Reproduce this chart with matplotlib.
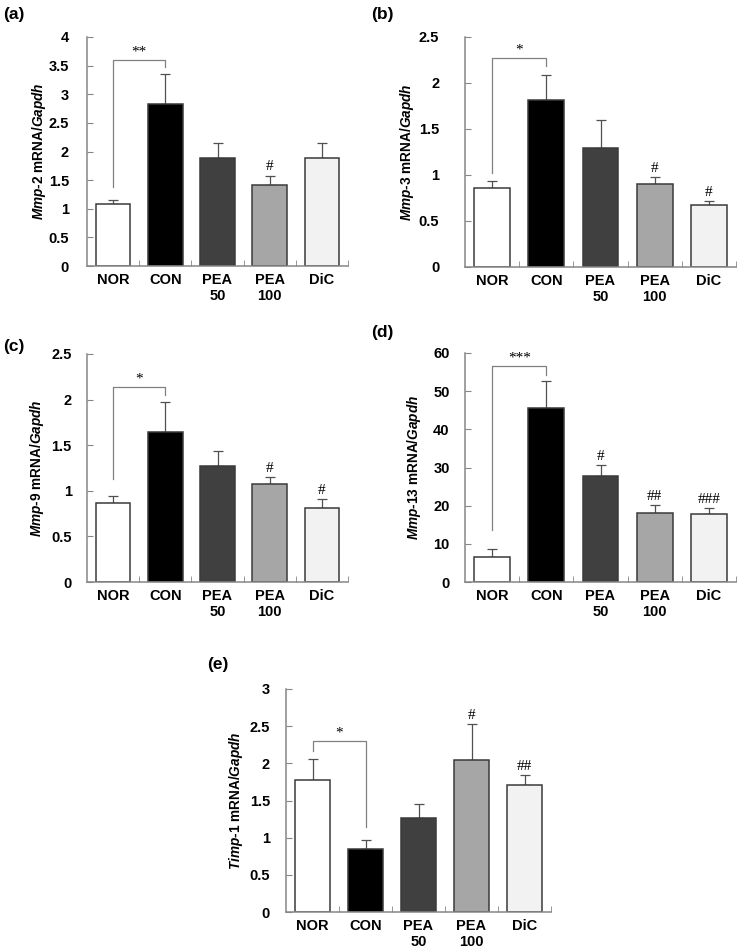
import matplotlib
matplotlib.use("Agg")
import matplotlib.pyplot as plt
import numpy as np

plt.rcParams['font.family'] = ['Liberation Sans', 'DejaVu Sans']
plt.rcParams['mathtext.fontset'] = 'custom'
plt.rcParams['mathtext.it'] = 'Liberation Sans:italic:bold'
plt.rcParams['mathtext.rm'] = 'Liberation Sans:bold'
plt.rcParams['mathtext.bf'] = 'Liberation Sans:bold'

groups = ["NOR", "CON", "PEA\n50", "PEA\n100", "DiC"]
bar_colors = ["#ffffff", "#000000", "#404040", "#a6a6a6", "#f2f2f2"]

# (a) Mmp-2
mmp2_mean = [1.08, 2.83, 1.89, 1.42, 1.89]
mmp2_err = [0.08, 0.52, 0.26, 0.16, 0.26]
mmp2_marks = ["", "", "", "#", ""]
# (b) Mmp-3
mmp3_mean = [0.86, 1.81, 1.29, 0.90, 0.67]
mmp3_err = [0.07, 0.28, 0.31, 0.08, 0.05]
mmp3_marks = ["", "", "", "#", "#"]
# (c) Mmp-9
mmp9_mean = [0.87, 1.65, 1.27, 1.08, 0.81]
mmp9_err = [0.07, 0.32, 0.17, 0.07, 0.10]
mmp9_marks = ["", "", "", "#", "#"]
# (d) Mmp-13
mmp13_mean = [6.5, 45.7, 27.9, 18.2, 17.9]
mmp13_err = [2.1, 7.0, 2.7, 1.9, 1.4]
mmp13_marks = ["", "", "#", "##", "###"]
# (e) Timp-1
timp1_mean = [1.77, 0.85, 1.26, 2.05, 1.71]
timp1_err = [0.29, 0.12, 0.19, 0.48, 0.13]
timp1_marks = ["", "", "", "#", "##"]

W, H = 738, 949
fig = plt.figure(figsize=(W / 100, H / 100), dpi=100)


def px_axes(l, r, t, b):
    return fig.add_axes([l / W, 1 - b / H, (r - l) / W, (b - t) / H])


def panel(ax, mean, err, marks, gene, ymax, ystep, pad, lab_dist,
          bracket, star):
    x = np.arange(len(groups))
    ax.bar(x, mean, width=0.66, color=bar_colors, edgecolor="#3a3a3a",
           linewidth=1.1, zorder=2)
    ax.errorbar(x, mean, yerr=[np.zeros(len(err)), err], fmt="none",
                ecolor="#505050", elinewidth=0.9, capsize=3.5, capthick=0.9,
                zorder=1)
    for i, m in enumerate(marks):
        if m:
            ax.annotate(m, (x[i], mean[i] + err[i]), xytext=(0, 1.5),
                        textcoords="offset points", ha="center", va="bottom",
                        fontsize=11, family="Liberation Serif")
    # significance bracket NOR vs CON
    yl, ytop, yr = bracket
    ax.plot([0, 0, 1, 1], [yl, ytop, ytop, yr], color="#808080", lw=0.9,
            zorder=1)
    ax.annotate(star, (0.5, ytop), xytext=(0, 1), textcoords="offset points",
                ha="center", va="bottom", fontsize=11,
                family="Liberation Serif")

    ax.set_xlim(-0.5, 4.5)
    ax.set_ylim(0, ymax)
    ticks = np.arange(0, ymax + ystep / 2, ystep)
    ax.set_yticks(ticks)
    ax.set_yticklabels(["{:g}".format(v) for v in ticks])
    ax.set_xticks(x)
    ax.set_xticklabels(groups, fontweight="bold", fontsize=10.5,
                       linespacing=1.15)
    ax.set_xticks(np.arange(0.5, 5, 1), minor=True)
    ax.tick_params(axis="x", which="major", length=0, pad=5)
    ax.tick_params(axis="x", which="minor", direction="in", length=4,
                   color="#868686")
    ax.tick_params(axis="y", direction="in", length=4, color="#868686",
                   pad=pad, labelsize=10.5)
    for t in ax.get_yticklabels():
        t.set_fontweight("bold")
    for s in ["top", "right"]:
        ax.spines[s].set_visible(False)
    for s in ["left", "bottom"]:
        ax.spines[s].set_color("#868686")
        ax.spines[s].set_linewidth(1.1)
    ax.set_ylabel(gene + " mRNA/$\\mathit{Gapdh}$", fontsize=9.8,
                  fontweight="bold", va="center")
    pos = ax.get_position()
    ax.yaxis.set_label_coords(-lab_dist / (pos.width * W), 0.5)


ax_a = px_axes(87, 348, 37, 266)
panel(ax_a, mmp2_mean, mmp2_err, mmp2_marks, "$\\mathit{Mmp}$-$\\mathit{2}$",
      4, 0.5, 13, 48, (1.38, 3.6, 3.48), "**")
ax_b = px_axes(465, 736, 37, 267)
panel(ax_b, mmp3_mean, mmp3_err, mmp3_marks, "$\\mathit{Mmp}$-$\\mathit{3}$",
      2.5, 0.5, 18.5, 58, (1.025, 2.275, 2.18), "*")
ax_c = px_axes(87, 348, 354, 582)
panel(ax_c, mmp9_mean, mmp9_err, mmp9_marks, "$\\mathit{Mmp}$-$\\mathit{9}$",
      2.5, 0.5, 11, 50, (1.13, 2.14, 2.05), "*")
ax_d = px_axes(465, 736, 353, 582)
panel(ax_d, mmp13_mean, mmp13_err, mmp13_marks,
      "$\\mathit{Mmp}$-$\\mathit{13}$", 60, 10, 11, 51,
      (13.7, 56.7, 54.3), "***")
ax_e = px_axes(286, 551, 689, 912)
panel(ax_e, timp1_mean, timp1_err, timp1_marks,
      "$\\mathit{Timp}$-$\\mathit{1}$", 3, 0.5, 11.5, 50,
      (2.17, 2.30, 1.15), "*")

for lab, xp, yp in [("(a)", 3, 15), ("(b)", 371, 15), ("(c)", 3, 347),
                    ("(d)", 371, 333), ("(e)", 207, 665)]:
    fig.text(xp / W, 1 - yp / H, lab, fontsize=12.5, fontweight="bold",
             ha="left", va="center")

fig.savefig("out.png", dpi=100)
